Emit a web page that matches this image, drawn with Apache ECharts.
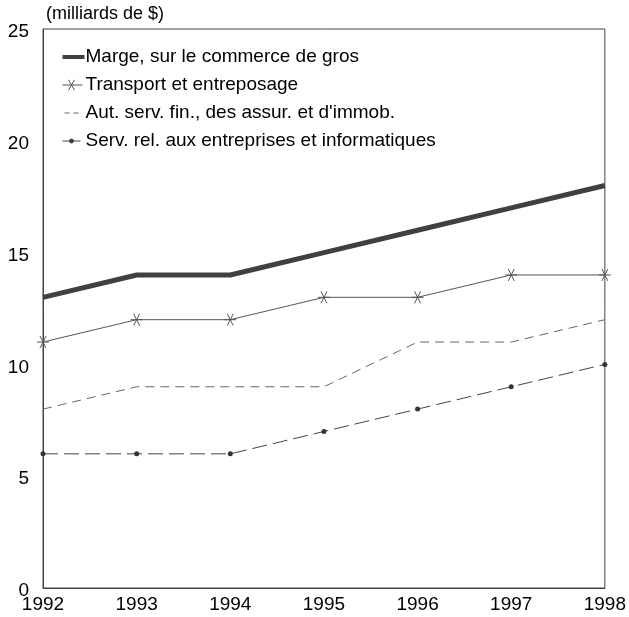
<!DOCTYPE html>
<html>
<head>
<meta charset="utf-8">
<script src="https://cdn.jsdelivr.net/npm/echarts@6/dist/echarts.min.js"></script>
<style>
  html, body { margin: 0; padding: 0; background: #fff; }
  #chart { width: 629px; height: 617px; }
</style>
</head>
<body>
<div id="chart"></div>
<script>
const years = ["1992", "1993", "1994", "1995", "1996", "1997", "1998"];
const marge = [13, 14, 14, 15, 16, 17, 18];
const transport = [11, 12, 12, 13, 13, 14, 14];
const finance = [8, 9, 9, 9, 11, 11, 12];
const services = [6, 6, 6, 7, 8, 9, 10];
const names = [
  "Marge, sur le commerce de gros",
  "Transport et entreposage",
  "Aut. serv. fin., des assur. et d'immob.",
  "Serv. rel. aux entreprises et informatiques"
];

const font = "'Liberation Sans', Arial, sans-serif";
// asterisk marker: horizontal bar + two steep diagonals
const star = "path://M-1,0L1,0M-0.5,-0.87L0.5,0.87M-0.5,0.87L0.5,-0.87";

// legend icons, all in a 22x14 box (the first two moves fix the box)
const box = "path://M0,0M22,14";
const icons = [
  box + "M0,5L22,5L22,9L0,9Z",
  box + "M0,7L20,7M6,1.8L12,12.2M6,12.2L12,1.8",
  box + "M2,7L7,7M11,7L16,7",
  box + "M0,7L18,7M11,7A2,2 0 1 1 7,7A2,2 0 1 1 11,7Z"
];

const chart = echarts.init(document.getElementById("chart"));
chart.setOption({
  animation: false,
  textStyle: { fontFamily: font },
  title: {
    text: "(milliards de $)",
    left: 46, top: 5, padding: 0,
    textStyle: { fontSize: 18, fontWeight: "normal", color: "#000", fontFamily: font }
  },
  grid: {
    left: 43, right: 23, top: 29, bottom: 29,
    show: true, borderColor: "#444", borderWidth: 1
  },
  legend: {
    orient: "vertical",
    left: 60, top: 47, padding: 0,
    itemGap: 8,
    itemWidth: 22, itemHeight: 14,
    textStyle: { fontSize: 19, lineHeight: 20, color: "#000", fontFamily: font, padding: [0, 0, 0, -4] },
    data: [
      { name: names[0], icon: icons[0], itemStyle: { color: "#404040", borderWidth: 0 } },
      { name: names[1], icon: icons[1], itemStyle: { color: "none", borderColor: "#555", borderWidth: 1 } },
      { name: names[2], icon: icons[2], itemStyle: { color: "none", borderColor: "#666", borderWidth: 1 } },
      { name: names[3], icon: icons[3], itemStyle: { color: "#333", borderColor: "#444", borderWidth: 1 } }
    ]
  },
  xAxis: {
    type: "category",
    data: years,
    boundaryGap: false,
    axisLine: { lineStyle: { color: "#444" } },
    axisTick: { show: false },
    axisLabel: { color: "#000", fontSize: 19, margin: 7, fontFamily: font }
  },
  yAxis: {
    type: "value",
    min: 0, max: 25, interval: 5,
    axisLine: { show: true, lineStyle: { color: "#444" } },
    axisTick: { show: false },
    splitLine: { show: false },
    axisLabel: {
      color: "#000", fontSize: 19, margin: 14, fontFamily: font,
      formatter: "{v|{value}}",
      rich: { v: { fontSize: 19, color: "#000", fontFamily: font, padding: [6, 0, 0, 0] } }
    }
  },
  series: [
    {
      name: names[0], type: "line", data: marge,
      symbol: "none",
      lineStyle: { color: "#404040", width: 5 },
      itemStyle: { color: "#404040" }
    },
    {
      name: names[1], type: "line", data: transport,
      symbol: star, symbolSize: 12,
      lineStyle: { color: "#555", width: 1 },
      itemStyle: { color: "none", borderColor: "#555", borderWidth: 1 }
    },
    {
      name: names[2], type: "line", data: finance,
      symbol: "none",
      lineStyle: { color: "#666", width: 1, type: [9, 6] },
      itemStyle: { color: "#666" }
    },
    {
      name: names[3], type: "line", data: services,
      symbol: "circle", symbolSize: 5,
      lineStyle: { color: "#444", width: 1, type: [15, 6] },
      itemStyle: { color: "#333" }
    }
  ]
});
</script>
</body>
</html>
